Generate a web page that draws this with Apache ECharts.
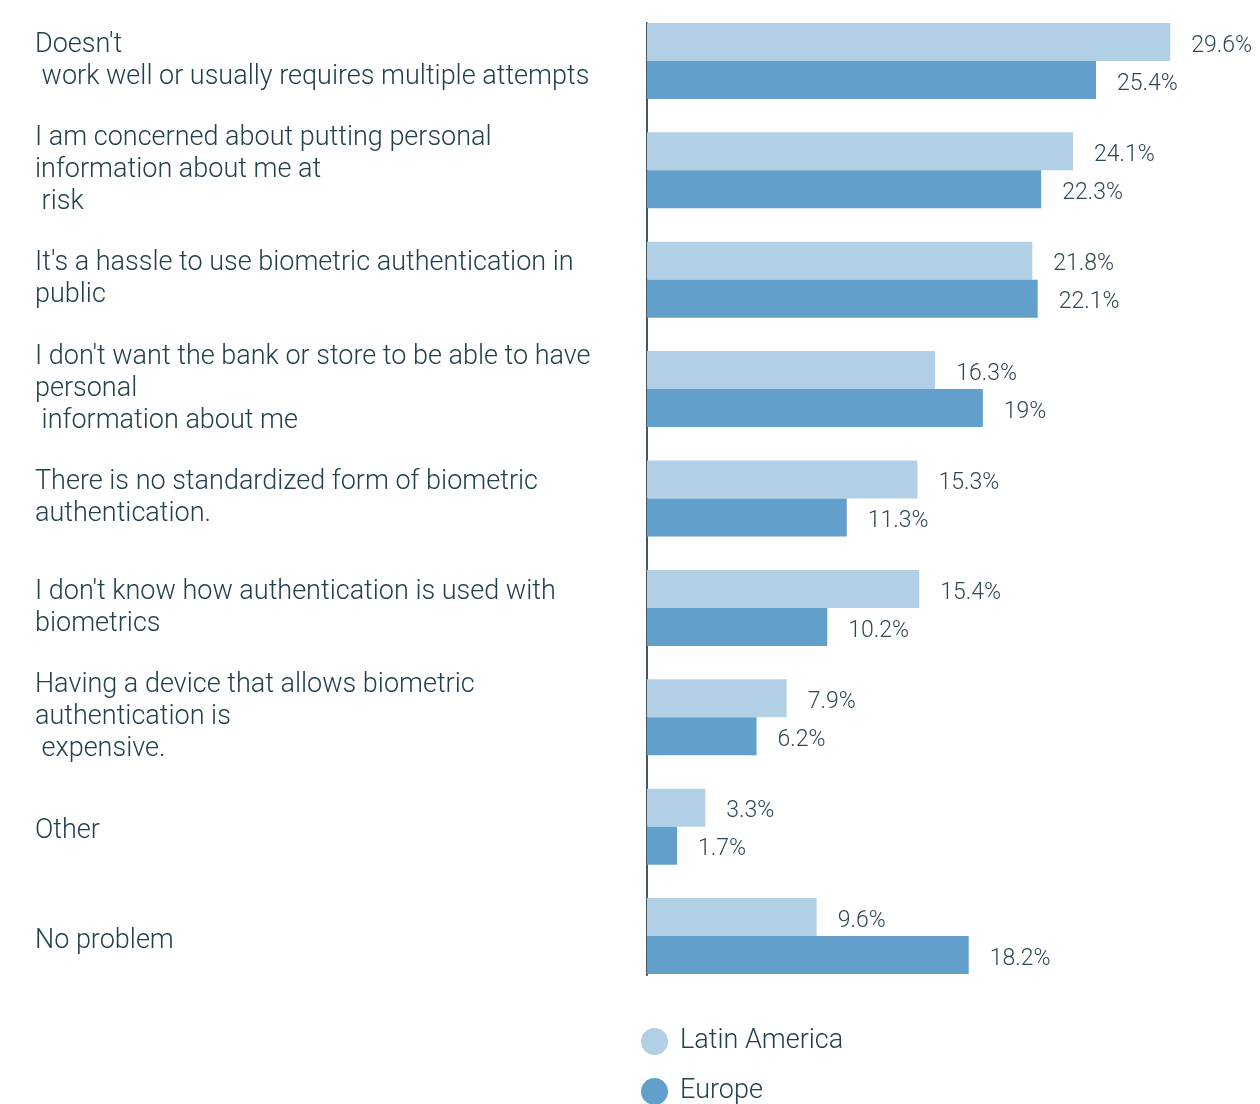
<!DOCTYPE html>
<html>
<head>
<meta charset="utf-8">
<script src="https://cdn.jsdelivr.net/npm/echarts@6/dist/echarts.min.js"></script>
<style>
  html, body { margin: 0; padding: 0; background: #ffffff; }
  #chart { width: 1260px; height: 1104px; }
</style>
</head>
<body>
<div id="chart"></div>
<script>
// Reasons for not using biometric authentication, by region (percent of respondents)
const categories = [
  "Doesn't\n work well or usually requires multiple attempts",
  "I am concerned about putting personal\ninformation about me at\n risk",
  "It's a hassle to use biometric authentication in\npublic",
  "I don't want the bank or store to be able to have\npersonal\n information about me",
  "There is no standardized form of biometric\nauthentication.",
  "I don't know how authentication is used with\nbiometrics",
  "Having a device that allows biometric\nauthentication is\n expensive.",
  "Other",
  "No problem"
];
const latinAmerica = [29.6, 24.1, 21.8, 16.3, 15.3, 15.4, 7.9, 3.3, 9.6];
const europe = [25.4, 22.3, 22.1, 19, 11.3, 10.2, 6.2, 1.7, 18.2];
const seriesNames = ["Latin America", "Europe"];

const textColor = '#223f4c';
const fontFamily = 'Roboto, "Open Sans", sans-serif';

const chart = echarts.init(document.getElementById('chart'), null, { renderer: 'canvas' });

const valueLabel = {
  show: true,
  position: 'right',
  distance: 21,
  offset: [0, 4],
  color: '#2e4855',
  fontFamily: fontFamily,
  fontSize: 23,
  fontWeight: 300,
  formatter: p => p.value + '%'
};

// one single-item legend per series, stacked vertically
function legendItem(name, top) {
  return {
    left: 636,
    top: top,
    icon: 'circle',
    itemWidth: 27,
    itemHeight: 27,
    textStyle: { color: textColor, fontFamily: fontFamily, fontSize: 27, fontWeight: 300, padding: [0, 0, 0, 7] },
    data: [name]
  };
}

const catFont = { color: textColor, fontFamily: fontFamily, fontSize: 27, fontWeight: 300, lineHeight: 32 };

chart.setOption({
  backgroundColor: '#ffffff',
  animation: false,
  legend: [legendItem(seriesNames[0], 1023), legendItem(seriesNames[1], 1073)],
  grid: [
    { left: 647, top: 6.3, width: 601, height: 984.4, containLabel: false },
    { left: 647, top: 23, width: 1, height: 952, containLabel: false }
  ],
  xAxis: [
    { gridIndex: 0, type: 'value', min: 0, max: 34, show: false },
    { gridIndex: 1, type: 'value', min: 0, max: 1, show: false }
  ],
  yAxis: [
    {
      gridIndex: 0,
      type: 'category',
      inverse: true,
      data: categories,
      axisLine: { show: false },
      axisTick: { show: false },
      splitLine: { show: false },
      axisLabel: Object.assign({
        align: 'left',
        margin: 612,
        // single-line labels sit a little lower than the group centre
        formatter: v => v.indexOf('\n') < 0 ? '{one|' + v + '}' : v,
        rich: { one: Object.assign({ padding: [10, 0, 0, 0] }, catFont) }
      }, catFont)
    },
    {
      gridIndex: 1,
      type: 'value',
      min: 0,
      max: 1,
      axisLine: { show: true, lineStyle: { color: '#3f5a66', width: 2 } },
      axisTick: { show: false },
      axisLabel: { show: false },
      splitLine: { show: false }
    }
  ],
  series: [
    {
      name: seriesNames[0],
      type: 'bar',
      xAxisIndex: 0,
      yAxisIndex: 0,
      data: latinAmerica,
      barWidth: 38,
      barGap: '0%',
      itemStyle: { color: '#b2d0e5' },
      label: valueLabel
    },
    {
      name: seriesNames[1],
      type: 'bar',
      xAxisIndex: 0,
      yAxisIndex: 0,
      data: europe,
      barWidth: 38,
      barGap: '0%',
      itemStyle: { color: '#62a0cb' },
      label: valueLabel
    }
  ]
});
</script>
</body>
</html>
